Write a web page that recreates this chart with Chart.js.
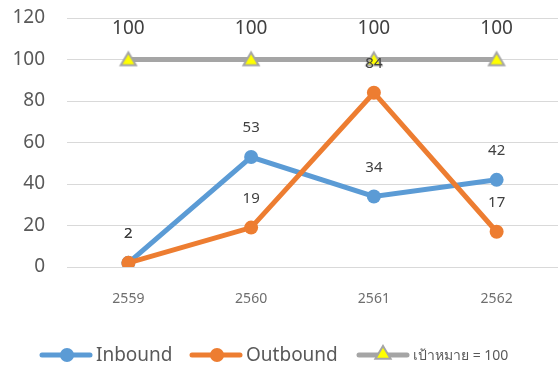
<!DOCTYPE html>
<html><head><meta charset="utf-8">
<script src="https://cdn.jsdelivr.net/npm/chart.js@4.4.1/dist/chart.umd.min.js"></script>
<style>html,body{margin:0;padding:0;background:#fff}#wrap{width:558px;height:369px}</style>
</head><body><div id="wrap"><canvas id="c" width="558" height="369"></canvas></div>
<script>
const categories = ['2559','2560','2561','2562'];
const inbound = [2, 53, 34, 42];
const outbound = [2, 19, 84, 17];
const target = [100, 100, 100, 100];
const yTicks = [0, 20, 40, 60, 80, 100, 120];
const seriesNames = ['Inbound', 'Outbound', 'เป้าหมาย = 100'];

const FONT = '"Noto Sans", "Open Sans", sans-serif';
const BLUE = '#5B9BD5', ORANGE = '#ED7D31', GRAY = '#A5A5A5', YELLOW = '#FFFF00';

const labelPlugin = {
  id: 'vlabels',
  afterDatasetsDraw(chart) {
    const ctx = chart.ctx;
    ctx.save();
    ctx.textAlign = 'center';
    ctx.textBaseline = 'middle';
    ctx.fillStyle = '#404040';
    chart.data.datasets.forEach((ds, i) => {
      const meta = chart.getDatasetMeta(i);
      const size = ds.labelSize, off = ds.labelOffset;
      ctx.font = size + 'px ' + FONT;
      meta.data.forEach((pt, j) => {
        ctx.fillText(String(ds.data[j]), pt.x, pt.y - off);
      });
    });
    ctx.restore();
  }
};

function drawTri(ctx, x, y, r) {
  ctx.beginPath();
  ctx.moveTo(x, y - r);
  ctx.lineTo(x + r * 0.95, y + r * 0.6);
  ctx.lineTo(x - r * 0.95, y + r * 0.6);
  ctx.closePath();
  ctx.fillStyle = YELLOW; ctx.fill();
  ctx.lineWidth = 2; ctx.strokeStyle = GRAY; ctx.stroke();
}

const legendPlugin = {
  id: 'customLegend',
  afterDraw(chart) {
    const ctx = chart.ctx;
    const y = 355;
    const items = [
      {x0: 40, color: BLUE, text: seriesNames[0], size: 19, marker: 'circle'},
      {x0: 190, color: ORANGE, text: seriesNames[1], size: 19, marker: 'circle'},
      {x0: 357, color: GRAY, text: seriesNames[2], size: 14, marker: 'tri'}
    ];
    ctx.save();
    items.forEach(it => {
      ctx.lineCap = 'round';
      ctx.strokeStyle = it.color; ctx.lineWidth = 5;
      ctx.beginPath(); ctx.moveTo(it.x0 + 2, y); ctx.lineTo(it.x0 + 50, y); ctx.stroke();
      if (it.marker === 'circle') {
        ctx.beginPath(); ctx.arc(it.x0 + 27, y, 7, 0, Math.PI * 2);
        ctx.fillStyle = it.color; ctx.fill();
      } else {
        drawTri(ctx, it.x0 + 26, y - 1, 8);
      }
      ctx.fillStyle = '#595959';
      ctx.font = it.size + 'px ' + FONT;
      ctx.textAlign = 'left'; ctx.textBaseline = 'middle';
      ctx.fillText(it.text, it.x0 + 56, y + 1);
    });
    ctx.restore();
  }
};

const triStyle = (function(){
  const c = document.createElement('canvas');
  c.width = 20; c.height = 20;
  drawTri(c.getContext('2d'), 10, 11, 8);
  return c;
})();

new Chart(document.getElementById('c'), {
  type: 'line',
  data: {
    labels: categories,
    datasets: [
      {label: seriesNames[2], data: target, borderColor: GRAY, borderWidth: 5, pointStyle: triStyle,
       order: 1, labelSize: 19, labelOffset: 31, borderCapStyle: 'round'},
      {label: seriesNames[1], data: outbound, borderColor: ORANGE, backgroundColor: ORANGE, borderWidth: 5,
       pointRadius: 7, pointHoverRadius: 7, pointBorderWidth: 0, order: 2, labelSize: 15, labelOffset: 29, borderCapStyle: 'round'},
      {label: seriesNames[0], data: inbound, borderColor: BLUE, backgroundColor: BLUE, borderWidth: 5,
       pointRadius: 7, pointHoverRadius: 7, pointBorderWidth: 0, order: 3, labelSize: 15, labelOffset: 29, borderCapStyle: 'round'}
    ]
  },
  options: {
    responsive: false,
    animation: false,
    events: [],
    layout: {autoPadding: false, padding: {top: 18, right: -5, left: 0, bottom: 0}},
    plugins: {legend: {display: false}, tooltip: {enabled: false}},
    elements: {line: {tension: 0}},
    scales: {
      x: {
        offset: true,
        grid: {display: false, drawTicks: false},
        border: {display: false},
        ticks: {color: '#6E6E6E', font: {family: FONT, size: 14}, padding: 24},
        afterFit(s) { s.height = 369 - 267; s.paddingLeft = 0; s.paddingRight = 0; }
      },
      y: {
        min: 0, max: 120,
        afterBuildTicks(s) { s.ticks = yTicks.map(v => ({value: v})); },
        grid: {color: '#D9D9D9', lineWidth: 1, drawTicks: false},
        border: {display: false},
        ticks: {color: '#595959', font: {family: FONT, size: 19}, padding: 22},
        afterFit(s) { s.width = 67; s.paddingTop = 0; s.paddingBottom = 0; }
      }
    }
  },
  plugins: [labelPlugin, legendPlugin]
});
</script>
</body></html>
